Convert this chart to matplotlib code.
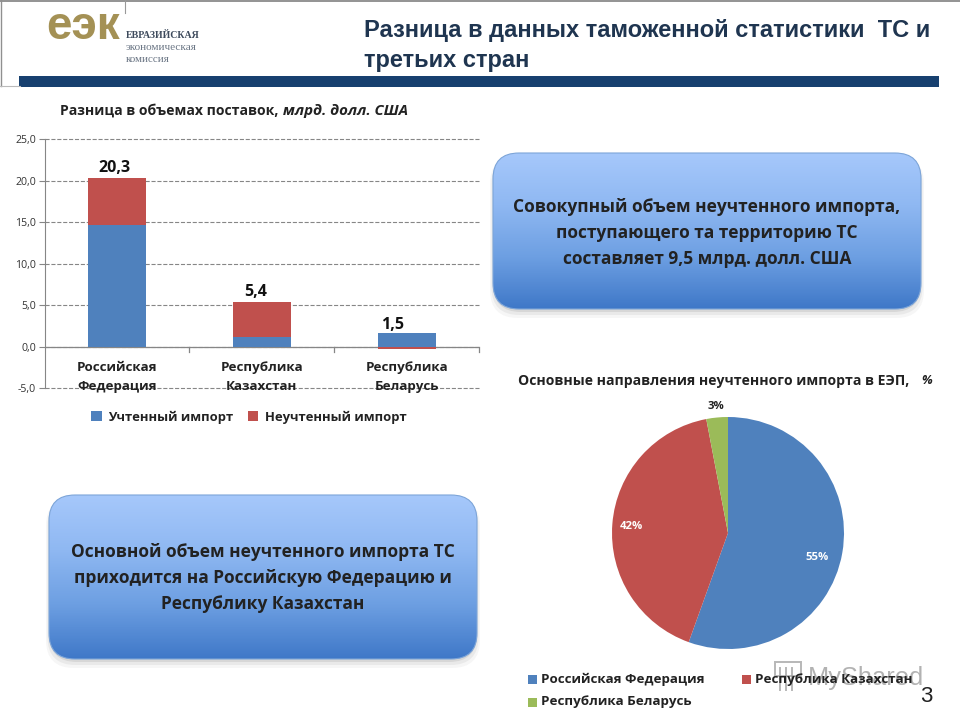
import numpy as np
import matplotlib as mpl
mpl.use('Agg')
import matplotlib.pyplot as plt
from matplotlib.patches import FancyBboxPatch, Rectangle
from matplotlib.colors import LinearSegmentedColormap

plt.rcParams['font.family'] = ['Open Sans', 'DejaVu Sans']

W, H = 960, 720

countries = ['Российская\nФедерация', 'Республика\nКазахстан', 'Республика\nБеларусь']
accounted = [14.7, 1.1, 1.7]
unaccounted = [5.6, 4.3, -0.3]
totals = ['20,3', '5,4', '1,5']
y_ticks = [-5, 0, 5, 10, 15, 20, 25]

pie_names = ['Российская Федерация', 'Республика Казахстан', 'Республика Беларусь']
pie_values = [55.5, 41.5, 3]
pie_labels = ['55%', '42%', '3%']
pie_colors = ['#4f81bd', '#c0504d', '#9bbb59']

BLUE = '#4f81bd'
RED = '#c0504d'
DARK = '#1f3550'

# where the reference puts its bar labels (they sit off centre)
label_dx = [-0.015, -0.045, -0.095]
label_y = [21.6, 6.6, 2.65]


# axes placed by pixel box of the reference
def px_axes(fig, x0, y0, x1, y1, **kw):
	return fig.add_axes([x0/W, 1-y1/H, (x1-x0)/W, (y1-y0)/H], **kw)


def rounded_box(bg, x0, y0, x1, y1, lines, ty):
	# soft shadow under the box
	for grow, a in [(4, 0.05), (2.5, 0.08), (1, 0.12)]:
		bg.add_patch(FancyBboxPatch((x0-grow+1, y0+3), x1-x0+2*grow-2, y1-y0+2*grow-2,
			boxstyle='round,pad=0,rounding_size=28', fc='#555555', ec='none', alpha=a, zorder=1))
	cmap = LinearSegmentedColormap.from_list('box', ['#a6c8fb', '#8fb8f2', '#6d9fe2', '#3f78c8'])
	grad = np.linspace(0, 1, 200).reshape(-1, 1)
	im = bg.imshow(grad, extent=(x0, x1, y1, y0), cmap=cmap, aspect='auto', zorder=2)
	box = FancyBboxPatch((x0, y0), x1-x0, y1-y0, boxstyle='round,pad=0,rounding_size=26',
		fc='none', ec='#7da5d8', lw=0.8, zorder=3)
	bg.add_patch(box)
	im.set_clip_path(box)
	for i, s in enumerate(lines):
		bg.text((x0+x1)/2, ty+i*26, s, ha='center', va='center', fontsize=12.5,
			fontweight='bold', color='#222222', zorder=4)


fig = plt.figure(figsize=(9.6, 7.2), dpi=100)

# background layer in pixel coordinates
bg = fig.add_axes([0, 0, 1, 1])
bg.set_xlim(0, W)
bg.set_ylim(H, 0)
bg.axis('off')

# header
bg.plot([0, W], [0.5, 0.5], color='#808080', lw=1.2)
bg.plot([0.7, 0.7], [0, 86], color='#909090', lw=1)
bg.plot([0, 20], [86, 86], color='#bbbbbb', lw=0.8)
bg.plot([125, 125], [0, 13], color='#999999', lw=0.8)
bg.add_patch(Rectangle((19, 76), 920, 11, fc='#17406f', ec='none'))
bg.text(46, 27, 'еэк', fontsize=33, fontweight='bold', color='#a49155', family='Liberation Sans',
	ha='left', va='center')
bg.text(126, 36, 'ЕВРАЗИЙСКАЯ', fontsize=7.1, color='#3d4a5c', family='Liberation Serif', fontweight='bold',
	ha='left', va='center')
bg.text(126, 47.5, 'экономическая', fontsize=8.1, color='#6b7685', family='Liberation Serif',
	ha='left', va='center')
bg.text(126, 59, 'комиссия', fontsize=7.9, color='#6b7685', family='Liberation Serif',
	ha='left', va='center')
bg.text(364, 30, 'Разница в данных таможенной статистики  ТС и', fontsize=17.05, fontweight='bold',
	color=DARK, family='Liberation Sans', ha='left', va='center')
bg.text(364, 60, 'третьих стран', fontsize=17.05, fontweight='bold', color=DARK,
	family='Liberation Sans', ha='left', va='center')

# chart titles
bg.text(60, 111, 'Разница в объемах поставок,', fontsize=10.1, fontweight='bold', color='#222222',
	ha='left', va='center')
bg.text(283, 111, 'млрд. долл. США', fontsize=10.8, fontweight='bold', style='italic', color='#222222',
	ha='left', va='center')
bg.text(518, 381, 'Основные направления неучтенного импорта в ЕЭП,', fontsize=10.1, fontweight='bold',
	color='#222222', ha='left', va='center')
bg.text(921, 381, '%', fontsize=9.0, fontweight='bold', style='italic', color='#222222',
	ha='left', va='center')

rounded_box(bg, 493, 153, 921, 309, ['Совокупный объем неучтенного импорта,',
	'поступающего та территорию ТС', 'составляет 9,5 млрд. долл. США'], 207)
rounded_box(bg, 49, 495, 477, 659, ['Основной объем неучтенного импорта ТС',
	'приходится на Российскую Федерацию и', 'Республику Казахстан'], 552)
bg.set_xlim(0, W)
bg.set_ylim(H, 0)

bg.text(926, 697, '3', fontsize=16, color='#222222', ha='center', va='center', family='Liberation Sans')

# stacked bars
ax = px_axes(fig, 44.5, 139.5, 479, 388)
ax.patch.set_alpha(0)
x = np.arange(len(countries))
ax.bar(x, accounted, 0.4, color=BLUE, label='Учтенный импорт', zorder=3)
ax.bar(x[:2], unaccounted[:2], 0.4, bottom=accounted[:2], color=RED, label='Неучтенный импорт', zorder=3)
ax.bar(x[2], unaccounted[2], 0.4, color=RED, zorder=3)
ax.set_xlim(-0.5, 2.5)
ax.set_ylim(-5, 25)
ax.set_yticks(y_ticks)
ax.set_yticklabels(['%d,0' % t for t in y_ticks], fontsize=7.6, color='#333333')
ax.grid(axis='y', color='#868686', ls='--', lw=0.8, zorder=1)
for g in ax.get_ygridlines():
	g.set_clip_on(False)
for s in ['top', 'right', 'bottom']:
	ax.spines[s].set_visible(False)
ax.spines['left'].set_color('#868686')
ax.tick_params(axis='y', length=4, color='#868686', pad=2)
ax.tick_params(axis='x', length=0)
ax.set_xticks([])
ax.axhline(0, color='#868686', lw=0.9, zorder=2)
for b in [0.5, 1.5, 2.5]:
	ax.plot([b, b], [0, -0.6], color='#868686', lw=0.9, zorder=2, clip_on=False)
for i in x:
	ax.text(i+label_dx[i], label_y[i], totals[i], ha='center', va='center', fontsize=11.5,
		fontweight='bold', color='#111111', zorder=5)
	ax.text(i, -3.65, countries[i], ha='center', va='center', fontsize=9.6, fontweight='bold',
		color='#222222', linespacing=1.55, zorder=5)
handles, labels = ax.get_legend_handles_labels()
leg = fig.legend(handles, labels, loc='center', bbox_to_anchor=(249/W, 1-417/H), ncol=2, frameon=False,
	fontsize=9.4, handlelength=0.8, handleheight=0.8, handletextpad=0.5, columnspacing=1.1)
for t in leg.get_texts():
	t.set_fontweight('bold')
	t.set_color('#222222')

# pie
pax = px_axes(fig, 612, 417, 844, 649)
wedges, _ = pax.pie(pie_values, colors=pie_colors, startangle=90, counterclock=False, radius=1)
pax.set_xlim(-1, 1)
pax.set_ylim(-1, 1)
pax.text(0.77, -0.21, pie_labels[0], color='white', fontsize=8.2, fontweight='bold', ha='center', va='center')
pax.text(-0.83, 0.06, pie_labels[1], color='white', fontsize=8.2, fontweight='bold', ha='center', va='center')
pax.text(-0.1, 1.09, pie_labels[2], color='#222222', fontsize=8.2, fontweight='bold', ha='center', va='center', clip_on=False)

for px, py, name, col in [(528, 679, pie_names[0], pie_colors[0]), (742, 679, pie_names[1], pie_colors[1]), (528, 702, pie_names[2], pie_colors[2])]:
	bg.add_patch(Rectangle((px, py-4), 9, 9, fc=col, ec='none'))
	bg.text(px+13, py, name, fontsize=9.6, fontweight='bold', color='#222222', ha='left', va='center', zorder=6)

# watermark, small icon plus name
bg.add_patch(Rectangle((775, 662), 26, 14, fc='none', ec='#999999', lw=1.4, alpha=0.7, zorder=5))
for vx in [780, 786, 792]:
	bg.plot([vx, vx], [668, 690], color='#999999', lw=1.4, alpha=0.7, zorder=5)
bg.text(808, 678, 'MyShared', fontsize=18.3, color='#999999', alpha=0.75, family='Liberation Sans',
	ha='left', va='center', zorder=5)

fig.savefig('out.png', dpi=100)
